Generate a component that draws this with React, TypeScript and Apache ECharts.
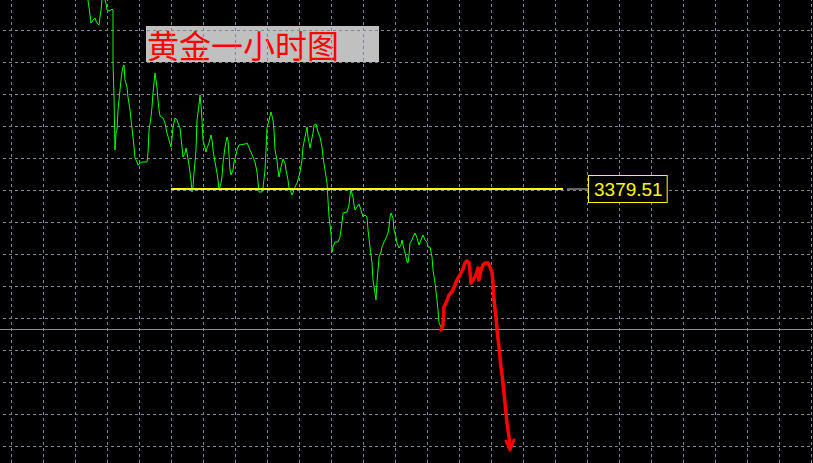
import React, { useEffect, useRef } from "react";
import * as echarts from "echarts";

// x = bar position, y = price
const greenLine: [number, number][] = [
  [76, 3428.76], [77, 3426.76], [79, 3423.01], [80, 3421.01], [81, 3421.26], [82, 3421.76], [84, 3422.26],
  [85, 3421.51], [86, 3421.01], [88, 3420.51], [89, 3422.51], [90, 3424.26], [91, 3426.76], [92, 3429.76],
  [94, 3426.76], [95, 3426.01], [96, 3424.26], [98, 3424.01], [100, 3424.26], [101, 3424.51], [102, 3424.26],
  [102, 3411.26], [103, 3402.51], [104, 3389.26], [105, 3393.51], [106, 3394.26], [107, 3399.26], [108, 3401.76],
  [109, 3404.26], [110, 3406.76], [111, 3408.76], [112, 3410.01], [113, 3410.51], [114, 3406.76], [116, 3405.01],
  [117, 3402.51], [119, 3399.26], [120, 3396.76], [122, 3392.51], [123, 3390.01], [124, 3387.26], [126, 3386.26],
  [127, 3385.51], [129, 3386.01], [131, 3386.26], [136, 3386.26], [137, 3388.51], [138, 3394.26], [140, 3397.51],
  [141, 3400.01], [142, 3403.51], [143, 3406.01], [144, 3408.51], [145, 3406.76], [146, 3404.76], [147, 3401.76],
  [148, 3399.26], [149, 3397.76], [152, 3397.26], [154, 3396.01], [156, 3393.51], [158, 3391.76], [160, 3390.01],
  [161, 3392.26], [162, 3395.01], [164, 3397.26], [166, 3396.76], [167, 3396.01], [169, 3394.76], [171, 3390.01],
  [172, 3387.51], [174, 3388.51], [175, 3389.76], [176, 3388.51], [178, 3385.51], [180, 3381.76], [181, 3378.76],
  [182, 3380.01], [183, 3383.51], [185, 3389.26], [186, 3396.76], [188, 3400.51], [189, 3403.01], [190, 3400.51],
  [191, 3396.76], [192, 3391.76], [194, 3389.76], [195, 3388.76], [196, 3389.76], [198, 3391.01], [200, 3393.01],
  [201, 3391.76], [202, 3389.26], [204, 3386.26], [206, 3383.51], [207, 3381.76], [208, 3379.26], [210, 3381.01],
  [211, 3382.51], [212, 3386.01], [214, 3390.01], [216, 3392.51], [217, 3391.76], [218, 3388.01], [219, 3384.26],
  [220, 3383.01], [222, 3384.26], [223, 3386.26], [225, 3388.01], [226, 3389.26], [228, 3390.51], [234, 3390.76],
  [236, 3391.01], [237, 3390.51], [239, 3389.26], [242, 3387.51], [244, 3386.26], [246, 3383.76], [247, 3381.26],
  [248, 3378.76], [251, 3378.76], [252, 3379.76], [254, 3384.26], [255, 3389.26], [256, 3394.76], [258, 3396.76],
  [260, 3398.76], [262, 3396.76], [263, 3394.26], [264, 3389.26], [266, 3386.76], [267, 3384.26], [268, 3382.51],
  [270, 3385.01], [272, 3387.01], [274, 3386.01], [275, 3384.26], [277, 3381.76], [278, 3379.76], [280, 3378.76],
  [281, 3378.01], [282, 3378.51], [284, 3380.01], [286, 3381.01], [287, 3381.76], [289, 3383.76], [291, 3386.76],
  [292, 3390.01], [294, 3392.51], [296, 3395.01], [297, 3392.51], [299, 3389.76], [300, 3391.01], [302, 3393.51],
  [303, 3395.51], [305, 3395.76], [306, 3394.76], [307, 3393.76], [309, 3392.51], [311, 3390.01], [312, 3387.51],
  [314, 3384.26], [316, 3381.01], [317, 3376.76], [318, 3372.51], [320, 3368.51], [321, 3363.76], [322, 3365.01],
  [324, 3366.26], [327, 3366.26], [329, 3367.51], [331, 3371.01], [332, 3373.51], [336, 3373.76], [338, 3375.51],
  [339, 3378.01], [340, 3379.26], [342, 3377.51], [343, 3375.51], [344, 3374.26], [346, 3375.01], [348, 3375.76],
  [350, 3374.26], [352, 3372.51], [354, 3373.01], [356, 3372.51], [357, 3369.26], [359, 3365.01], [361, 3361.01],
  [362, 3356.76], [364, 3353.51], [365, 3351.76], [366, 3356.26], [367, 3359.26], [368, 3362.51], [370, 3363.76],
  [371, 3365.01], [373, 3366.26], [375, 3367.26], [377, 3368.51], [378, 3370.01], [379, 3372.51], [380, 3373.51],
  [382, 3372.26], [383, 3369.26], [385, 3367.51], [386, 3366.01], [388, 3364.76], [390, 3365.51], [391, 3366.76],
  [392, 3365.51], [394, 3363.51], [396, 3361.26], [397, 3361.01], [398, 3363.01], [399, 3366.01], [401, 3366.76],
  [402, 3367.51], [404, 3368.51], [406, 3367.26], [408, 3365.51], [410, 3366.76], [412, 3368.01], [414, 3366.76],
  [416, 3366.26], [417, 3365.01], [419, 3365.01], [421, 3362.51], [422, 3359.26], [424, 3356.01], [426, 3351.76],
  [427, 3349.26], [428, 3346.01], [430, 3345.01],
];

const redLine: [number, number][] = [
  [430, 3344.26], [432, 3345.51], [433, 3350.01], [435, 3351.01], [438, 3353.01], [441, 3353.76], [444, 3355.51],
  [446, 3356.76], [449, 3358.01], [452, 3359.51], [454, 3361.01], [456, 3361.51], [458, 3361.01], [459, 3358.76],
  [460, 3356.01], [462, 3356.76], [464, 3357.51], [466, 3358.76], [467, 3359.76], [468, 3356.76], [470, 3359.26],
  [472, 3360.51], [474, 3361.01], [477, 3361.01], [479, 3360.01], [481, 3358.76], [482, 3356.01], [483, 3351.76],
  [485, 3347.51], [486, 3344.26], [488, 3340.01], [490, 3335.01], [492, 3331.01], [494, 3326.01], [496, 3321.01],
  [498, 3317.51], [499, 3314.76],
];

const redArrowHead: [number, number][] = [[495, 3316.51], [499, 3314.26], [503, 3316.76]];

const levelPrice = 3379.51;
const levelStartX = 160;
const levelEndX = 552;
const tagStartX = 556;
const tagEndX = 578;
const bidPrice = 3344.51;
const titleText = "黄金一小时图";

const X_MIN = -32;
const X_MAX = 832;
const X_STEP = 32;
const Y_MIN = 3307.26;
const Y_MAX = 3427.26;
const Y_STEP = 8;

// plot area is larger than the window so that the grid's edge lines fall outside it
const PLOT_LEFT = -21;
const PLOT_TOP = -2;
const PLOT_W = 864;
const PLOT_H = 480;

export default function App() {
  const ref = useRef<HTMLDivElement>(null);
  useEffect(() => {
    if (!ref.current) return;
    const chart = echarts.init(ref.current, undefined, { renderer: "svg" });
    const gridLine = { show: true, lineStyle: { color: "#778899", width: 1, type: [3, 3] as any } };
    chart.setOption({
      animation: false,
      backgroundColor: "#000000",
      grid: { left: 0, right: 0, top: 0, bottom: 0, containLabel: false },
      xAxis: {
        type: "value",
        min: X_MIN,
        max: X_MAX,
        interval: X_STEP,
        axisLine: { show: false },
        axisTick: { show: false },
        axisLabel: { show: false },
        splitLine: gridLine,
      },
      yAxis: {
        type: "value",
        min: Y_MIN,
        max: Y_MAX,
        interval: Y_STEP,
        axisLine: { show: false },
        axisTick: { show: false },
        axisLabel: { show: false },
        splitLine: gridLine,
      },
      graphic: [
        {
          type: "group",
          left: 146 - PLOT_LEFT,
          top: 26 - PLOT_TOP,
          children: [
            { type: "rect", shape: { x: 0, y: 0, width: 233, height: 36 }, style: { fill: "#c0c0c0" } },
            {
              type: "text",
              x: 1,
              y: 18,
              style: {
                text: titleText,
                fill: "#ff0000",
                font: '32px "Noto Sans CJK SC"',
                verticalAlign: "middle",
                align: "left",
              },
            },
          ],
        },
      ],
      series: [
        {
          type: "line",
          data: greenLine,
          showSymbol: false,
          symbol: "none",
          lineStyle: { color: "#00ff00", width: 1 },
          silent: true,
          z: 3,
          markLine: {
            silent: true,
            symbol: "none",
            label: { show: false },
            lineStyle: { color: "#8a929c", width: 1, type: "solid" },
            data: [{ yAxis: bidPrice }],
          },
        },
        {
          type: "line",
          data: [[levelStartX, levelPrice], [levelEndX, levelPrice]],
          symbol: "none",
          lineStyle: { color: "#ffff00", width: 2 },
          silent: true,
          z: 4,
        },
        {
          type: "line",
          data: [[tagStartX, levelPrice], [tagEndX, levelPrice]],
          symbol: "none",
          lineStyle: { color: "#c8c8c8", width: 1 },
          silent: true,
          z: 4,
          endLabel: {
            show: true,
            distance: 0,
            formatter: (p: any) => Number(p.value[1]).toFixed(2),
            color: "#ffff00",
            fontFamily: "Liberation Sans",
            fontSize: 19,
            lineHeight: 20,
            backgroundColor: "#000000",
            borderColor: "#ffff00",
            borderWidth: 1,
            padding: [3, 4, 3, 5],
          },
        },
        {
          type: "line",
          data: redLine,
          symbol: "none",
          lineStyle: { color: "#ff0000", width: 3.5, join: "round", cap: "round" },
          silent: true,
          z: 5,
        },
        {
          type: "line",
          data: redArrowHead,
          symbol: "none",
          lineStyle: { color: "#ff0000", width: 3, join: "round", cap: "round" },
          silent: true,
          z: 5,
        },
      ],
    });
    return () => chart.dispose();
  }, []);
  return (
    <div
      style={{
        position: "fixed",
        left: 0,
        top: 0,
        width: 813,
        height: 463,
        overflow: "hidden",
        background: "#000",
      }}
    >
      <div
        ref={ref}
        style={{ position: "absolute", left: PLOT_LEFT, top: PLOT_TOP, width: PLOT_W, height: PLOT_H }}
      />
    </div>
  );
}
